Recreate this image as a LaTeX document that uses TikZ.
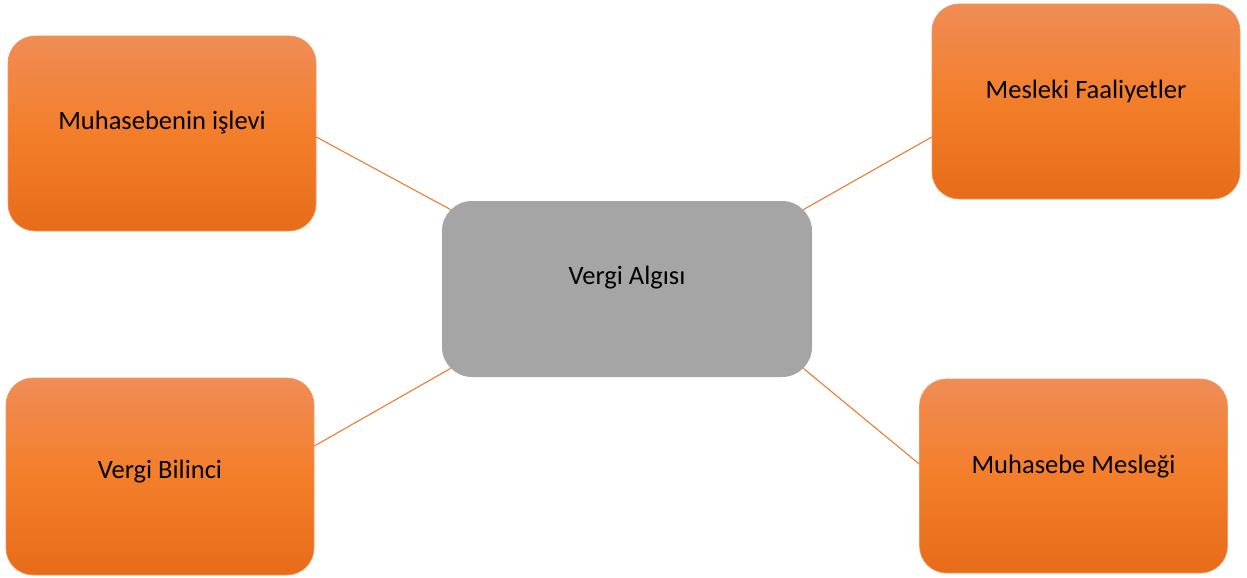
\documentclass[tikz,border=0pt]{standalone}
\usepackage{fontspec}
\setmainfont{Carlito}
\usetikzlibrary{calc}
\definecolor{boxtop}{RGB}{240,140,86}
\definecolor{boxmid}{RGB}{243,126,42}
\definecolor{boxbot}{RGB}{231,108,26}
\definecolor{boxedge}{RGB}{244,150,95}
\definecolor{hubgray}{RGB}{165,165,165}
\definecolor{linkorange}{RGB}{237,125,49}
\tikzset{
  topicbox/.style={rectangle, rounded corners=27pt, minimum width=308pt,
    minimum height=195pt, inner sep=0pt, draw=boxedge, line width=0.6pt,
    top color=boxtop, bottom color=boxbot, middle color=boxmid},
  hubbox/.style={rectangle, rounded corners=30pt, minimum width=370pt,
    minimum height=176pt, inner sep=0pt, fill=hubgray, draw=none},
  caption/.style={inner sep=0pt, font=\fontsize{26.5pt}{31pt}\selectfont, text=black},
  link/.style={draw=linkorange, line width=1.1pt}
}
\begin{document}
\begin{tikzpicture}[x=1pt,y=-1pt]
\useasboundingbox[fill=white] (0,0) rectangle (1247,578);

% outer topic boxes
\node[topicbox] (tl) at (162,133.5) {};
\node[topicbox] (tr) at (1086,101.5) {};
\node[topicbox, minimum height=197pt] (bl) at (160,476.5) {};
\node[topicbox, minimum height=194pt] (br) at (1073.5,476) {};

% central box
\node[hubbox] (hub) at (627,289) {};

% captions
\node[caption] (tlt) at (162,123) {Muhasebenin işlevi};
\node[caption] (trt) at (1086,91) {Mesleki Faaliyetler};
\node[caption] (blt) at (160,472) {Vergi Bilinci};
\node[caption] (brt) at (1073.5,466.5) {Muhasebe Mesleği};
\node[caption] (hubt) at (627,278) {Vergi Algısı};

% connection points on the boxes
\coordinate (hnw) at ($(hub.north west)+(8.8,8.8)$);
\coordinate (hne) at ($(hub.north east)+(-8.8,8.8)$);
\coordinate (hsw) at ($(hub.south west)+(8.8,-8.8)$);
\coordinate (hse) at ($(hub.south east)+(-8.8,-8.8)$);
\coordinate (tlp) at ($(tl.east)+(0,3.5)$);
\coordinate (trp) at ($(tr.west)+(0,35.5)$);
\coordinate (blp) at ($(bl.east)+(0,-30.5)$);
\coordinate (brp) at ($(br.west)+(0,-12)$);

% connectors
\draw[link] (tlp) -- (hnw);
\draw[link] (trp) -- (hne);
\draw[link] (blp) -- (hsw);
\draw[link] (brp) -- (hse);
\end{tikzpicture}
\end{document}
